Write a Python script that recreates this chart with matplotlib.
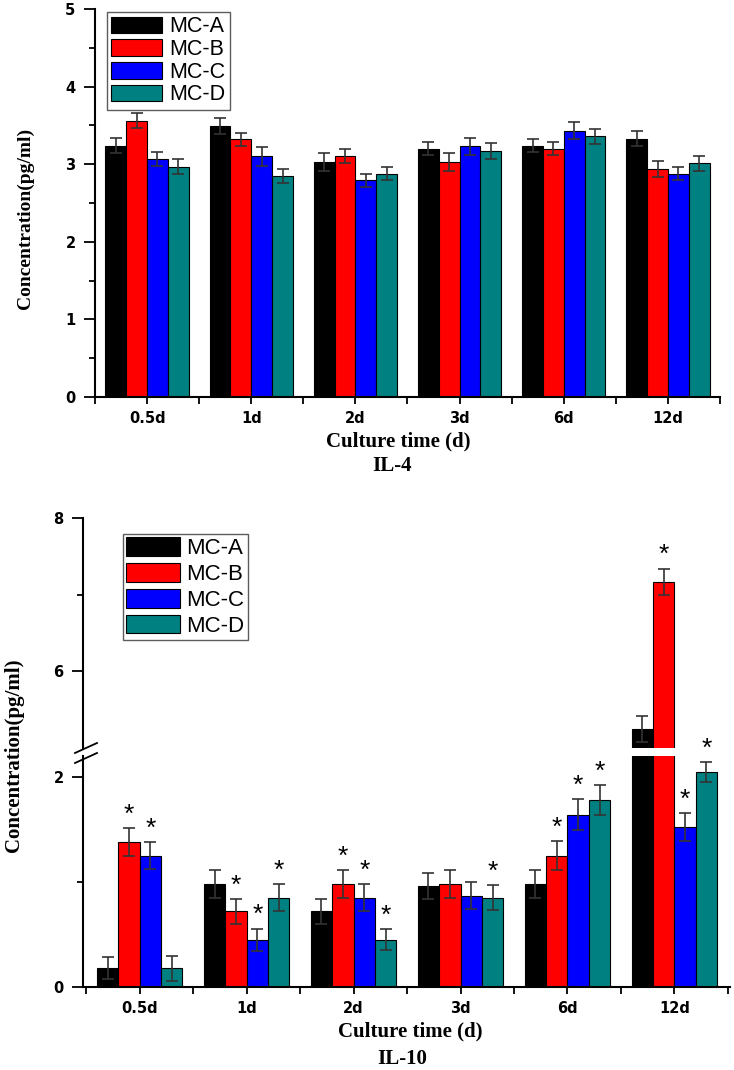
import matplotlib
matplotlib.use('Agg')
from matplotlib import pyplot as plt
from matplotlib.lines import Line2D
import numpy as np

# categories / series
days = ['0.5d', '1d', '2d', '3d', '6d', '12d']
groups = ['MC-A', 'MC-B', 'MC-C', 'MC-D']
colors = ['#000000', '#ff0000', '#0000ff', '#008080']

# IL-4 (pg/ml)
il4_a = [3.24, 3.49, 3.03, 3.20, 3.24, 3.33]
il4_b = [3.56, 3.32, 3.10, 3.03, 3.20, 2.94]
il4_c = [3.07, 3.10, 2.79, 3.23, 3.43, 2.88]
il4_d = [2.97, 2.85, 2.88, 3.17, 3.36, 3.01]
il4_a_err = [0.10, 0.10, 0.12, 0.085, 0.08, 0.10]
il4_b_err = [0.095, 0.085, 0.09, 0.12, 0.085, 0.10]
il4_c_err = [0.09, 0.12, 0.08, 0.11, 0.11, 0.09]
il4_d_err = [0.10, 0.09, 0.08, 0.10, 0.095, 0.095]

# IL-10 (pg/ml)
il10_a = [0.18, 0.98, 0.72, 0.96, 0.98, 5.25]
il10_b = [1.38, 0.72, 0.98, 0.98, 1.25, 7.17]
il10_c = [1.25, 0.45, 0.85, 0.87, 1.64, 1.52]
il10_d = [0.18, 0.85, 0.45, 0.85, 1.78, 2.05]
il10_a_err = [0.105, 0.13, 0.12, 0.125, 0.13, 0.17]
il10_b_err = [0.13, 0.12, 0.13, 0.13, 0.14, 0.17]
il10_c_err = [0.13, 0.105, 0.13, 0.127, 0.146, 0.133]
il10_d_err = [0.12, 0.13, 0.10, 0.12, 0.146, 0.095]
# significance marks (*)
il10_a_sig = [0, 0, 0, 0, 0, 0]
il10_b_sig = [1, 1, 1, 0, 1, 1]
il10_c_sig = [1, 1, 1, 0, 1, 1]
il10_d_sig = [0, 1, 1, 1, 1, 1]

W, H = 734, 1070
bar_w = 0.2
serif = ['Liberation Serif', 'DejaVu Serif']


def rect(left, top, right, bottom):
    # pixel box -> figure fraction
    return [left / W, 1 - bottom / H, (right - left) / W, (bottom - top) / H]


def px(x, y):
    return x / W, 1 - y / H


def style_axis(ax):
    for s in ['top', 'right']:
        ax.spines[s].set_visible(False)
    for s in ['left', 'bottom']:
        ax.spines[s].set_linewidth(1.5)
    ax.tick_params(axis='y', which='major', direction='out', length=8, width=1.3, pad=6)
    ax.tick_params(axis='y', which='minor', direction='out', length=4, width=1.3)
    ax.tick_params(axis='x', which='both', direction='out', length=5, width=1.3, pad=5)
    for lab in ax.get_yticklabels() + ax.get_xticklabels():
        lab.set_fontfamily('DejaVu Sans')
        lab.set_fontweight('bold')
        lab.set_fontsize(10.5)


def draw_bars(ax, means, errs):
    x = np.arange(len(days))
    for i in range(4):
        pos = x + (i - 1.5) * bar_w
        ax.bar(pos, means[i], bar_w, color=colors[i], edgecolor='black',
               linewidth=0.8, label=groups[i], zorder=2)
        ax.errorbar(pos, means[i], yerr=errs[i], fmt='none', ecolor='#333333',
                    elinewidth=1.2, capsize=4, capthick=1.2, zorder=3)


def set_xaxis(ax, lo, hi):
    ax.set_xlim(lo, hi)
    ax.set_xticks(np.arange(len(days)))
    ax.set_xticklabels(days)
    ax.set_xticks(np.arange(-0.5, len(days), 1.0), minor=True)


fig = plt.figure(figsize=(W / 100, H / 100), dpi=100)

# ---------------- IL-4 ----------------
ax1 = fig.add_axes(rect(95, 9, 720, 397))
draw_bars(ax1, [il4_a, il4_b, il4_c, il4_d], [il4_a_err, il4_b_err, il4_c_err, il4_d_err])
ax1.set_ylim(0, 5)
ax1.set_yticks([0, 1, 2, 3, 4, 5])
ax1.set_yticks(np.arange(0.5, 5, 1.0), minor=True)
set_xaxis(ax1, -0.5, 5.5)
style_axis(ax1)
leg = ax1.legend(loc='upper left', bbox_to_anchor=(12 / 625, 1 - 3 / 388),
                 borderaxespad=0, prop={'family': 'Liberation Sans', 'size': 15.5},
                 fancybox=False, frameon=True, handlelength=2.35, handleheight=0.8,
                 handletextpad=0.35, labelspacing=0.08, borderpad=0.2)
leg.get_frame().set_edgecolor('#333333')
leg.get_frame().set_linewidth(1.0)

fig.text(*px(398, 441), 'Culture time (d)', family=serif, weight='bold', size=15,
         ha='center', va='center')
fig.text(*px(392, 466), 'IL-4', family=serif, weight='bold', size=15,
         ha='center', va='center')
fig.text(*px(25, 218), 'Concentration(pg/ml)', family=serif, weight='bold', size=14,
         ha='center', va='center', rotation=90)

# ---------------- IL-10 (broken axis) ----------------
ax_hi = fig.add_axes(rect(83, 518, 730, 748))
ax_lo = fig.add_axes(rect(83, 756, 730, 987))
il10_means = [il10_a, il10_b, il10_c, il10_d]
il10_errs = [il10_a_err, il10_b_err, il10_c_err, il10_d_err]
il10_sig = [il10_a_sig, il10_b_sig, il10_c_sig, il10_d_sig]
for ax in (ax_hi, ax_lo):
    draw_bars(ax, il10_means, il10_errs)
    set_xaxis(ax, -0.53, 5.52)

ax_lo.set_ylim(0, 2.2)
ax_lo.set_yticks([0, 2])
ax_lo.set_yticks([1], minor=True)
ax_hi.set_ylim(5, 8)
ax_hi.set_yticks([6, 8])
ax_hi.set_yticks([7], minor=True)
style_axis(ax_lo)
style_axis(ax_hi)
ax_hi.spines['bottom'].set_visible(False)
ax_hi.tick_params(axis='x', which='both', bottom=False, labelbottom=False)

# stars
x = np.arange(len(days))
for i in range(4):
    for j in range(len(days)):
        if not il10_sig[i][j]:
            continue
        top = il10_means[i][j] + il10_errs[i][j]
        ax = ax_lo if top < 2.2 else ax_hi
        ax.annotate('*', (x[j] + (i - 1.5) * bar_w, top), xytext=(0, 1),
                    textcoords='offset points', ha='center', va='bottom',
                    family='Liberation Sans', size=19, annotation_clip=False)

# break marks on the y axis
for yb in (748, 758):
    x0, y0 = px(75, yb + 5)
    x1, y1 = px(97, yb - 5)
    fig.add_artist(Line2D([x0, x1], [y0, y1], color='black', lw=1.3))

leg2 = ax_hi.legend(loc='upper left', bbox_to_anchor=(40 / 647, 1 - 16 / 230),
                    borderaxespad=0, prop={'family': 'Liberation Sans', 'size': 16},
                    fancybox=False, frameon=True, handlelength=2.4, handleheight=0.9,
                    handletextpad=0.3, labelspacing=0.18, borderpad=0.15)
leg2.get_frame().set_edgecolor('#333333')
leg2.get_frame().set_linewidth(1.0)

fig.text(*px(410, 1031), 'Culture time (d)', family=serif, weight='bold', size=15,
         ha='center', va='center')
fig.text(*px(402, 1059), 'IL-10', family=serif, weight='bold', size=15,
         ha='center', va='center')
fig.text(*px(14, 755), 'Concentration(pg/ml)', family=serif, weight='bold', size=15,
         ha='center', va='center', rotation=90)

fig.savefig('out.png', dpi=100, facecolor='white')
